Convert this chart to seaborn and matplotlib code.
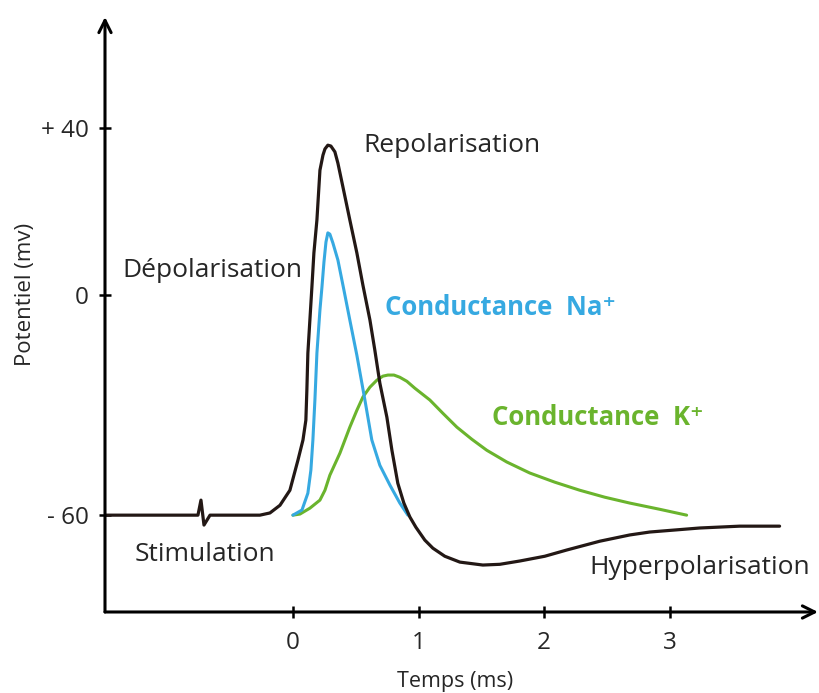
import numpy as np
import pandas as pd
import matplotlib
matplotlib.use('Agg')
import matplotlib.pyplot as plt
import seaborn as sns

sns.set_style('white')
plt.rcParams['font.family'] = ['Open Sans', 'DejaVu Sans']

# Potentiel d'action (ms, mV)
t_pot = [-1.496, -0.756, -0.732, -0.708, -0.660, -0.263, -0.183, -0.103, -0.024, 0.040,
         0.080, 0.103, 0.111, 0.119, 0.135, 0.151, 0.167, 0.191, 0.215, 0.239,
         0.255, 0.278, 0.302, 0.334, 0.358, 0.398, 0.453, 0.509, 0.557, 0.613,
         0.652, 0.692, 0.748, 0.788, 0.835, 0.883, 0.931, 0.979, 1.050, 1.114,
         1.209, 1.329, 1.512, 1.647, 1.806, 2.005, 2.180, 2.443, 2.681, 2.840,
         3.238, 3.556, 3.874]
v_pot = [-60, -60, -55.9, -62.7, -60, -60, -59.4, -57.3, -53.2, -45.0,
         -39.5, -34.1, -25.9, -15.8, -6.8, 1.9, 10.1, 18.0, 29.9, 33.5,
         35.0, 35.9, 35.7, 34.3, 31.6, 25.9, 18.0, 10.1, 2.4, -6.8,
         -15.0, -24.0, -33.3, -42.3, -51.3, -56.7, -60.5, -63.3, -66.8, -69.0,
         -71.2, -72.8, -73.6, -73.4, -72.5, -71.2, -69.5, -67.1, -65.4, -64.6,
         -63.5, -63.0, -63.0]

# Conductance Na+
t_na = [0, 0.072, 0.119, 0.143, 0.159, 0.175, 0.191, 0.215, 0.231, 0.247, 0.263, 0.278,
        0.294, 0.318, 0.358, 0.406, 0.453, 0.509, 0.573, 0.628, 0.692, 0.772, 0.851, 0.915]
v_na = [-60, -58.6, -54.0, -47.7, -39.5, -28.6, -15.8, -4.1, 1.9, 7.9, 12.7, 14.9,
        14.6, 12.5, 8.4, 1.2, -6.8, -16.4, -28.6, -39.5, -46.4, -51.8, -56.7, -60]

# Conductance K+
t_k = [0, 0.056, 0.135, 0.215, 0.255, 0.294, 0.374, 0.453, 0.509, 0.557, 0.613,
       0.668, 0.716, 0.756, 0.804, 0.851, 0.907, 0.971, 1.090, 1.193, 1.305,
       1.424, 1.543, 1.702, 1.885, 2.084, 2.283, 2.482, 2.681, 2.920, 3.134]
v_k = [-60, -59.7, -58.1, -55.9, -53.2, -49.1, -43.1, -36.0, -31.4, -27.8, -25.1,
       -23.2, -22.1, -21.8, -21.8, -22.4, -23.5, -25.4, -28.6, -32.2, -36.0,
       -39.3, -42.3, -45.5, -48.5, -51.0, -53.2, -55.1, -56.7, -58.4, -60]

yticks = [-60, 0, 40]
ytick_labels = ['- 60', '0', '+ 40']
xticks = [0, 1, 2, 3]

c_pot = '#231815'
c_na = '#36a9e1'
c_k = '#6ab42d'

df_pot = pd.DataFrame({'t': t_pot, 'v': v_pot})
df_na = pd.DataFrame({'t': t_na, 'v': v_na})
df_k = pd.DataFrame({'t': t_k, 'v': v_k})

fig = plt.figure(figsize=(8.19, 6.93), dpi=100)
ax = fig.add_axes([0.1282, 0.1169, 0.8706, 0.8586])

# echelle schematique: partie positive etiree
k = 1.1386
ax.set_yscale('function', functions=(lambda y: np.where(y > 0, y * k, y),
                                     lambda y: np.where(y > 0, y / k, y)))

sns.lineplot(data=df_k, x='t', y='v', color=c_k, lw=2.2, sort=False, estimator=None, ax=ax)
sns.lineplot(data=df_na, x='t', y='v', color=c_na, lw=2.2, sort=False, estimator=None, ax=ax)
sns.lineplot(data=df_pot, x='t', y='v', color=c_pot, lw=2.3, sort=False, estimator=None, ax=ax)

ax.set_xlim(-1.496, 4.18)
ax.set_ylim(-86.4, 66.6)

for s in ax.spines.values():
    s.set_visible(False)
ax.annotate('', xy=(1.0, 0), xytext=(0, 0), xycoords='axes fraction',
            arrowprops=dict(arrowstyle='->', lw=2.2, color='black', mutation_scale=22,
                            shrinkA=0, shrinkB=0), annotation_clip=False)
ax.annotate('', xy=(0, 1.0), xytext=(0, 0), xycoords='axes fraction',
            arrowprops=dict(arrowstyle='->', lw=2.2, color='black', mutation_scale=22,
                            shrinkA=0, shrinkB=0), annotation_clip=False)

ax.set_yticks(yticks)
ax.set_yticklabels(ytick_labels)
ax.set_xticks(xticks)
ax.tick_params(axis='both', direction='inout', length=9, width=1.8, color='black',
               labelsize=17.5, left=True, bottom=True)
ax.tick_params(axis='y', pad=7)
ax.tick_params(axis='x', pad=9)
ax.grid(False)

ax.set_xlabel('Temps (ms)', fontsize=15.5)
ax.set_ylabel('Potentiel (mv)', fontsize=16)
ax.xaxis.set_label_coords(0.491, -0.100)
ax.yaxis.set_label_coords(-0.097, 0.533)

fs = 19
ax.text(0.557, 35.9, 'Repolarisation', fontsize=fs, ha='left', va='center')
ax.text(-1.360, 6.0, 'Dépolarisation', fontsize=fs, ha='left', va='center')
ax.text(0.732, -3.3, 'Conductance  Na⁺', fontsize=18.5, ha='left', va='center',
        color=c_na, fontweight='bold')
ax.text(1.583, -33.5, 'Conductance  K⁺', fontsize=18.5, ha='left', va='center',
        color=c_k, fontweight='bold')
ax.text(-1.257, -70.6, 'Stimulation', fontsize=fs, ha='left', va='center')
ax.text(2.363, -74.4, 'Hyperpolarisation', fontsize=fs, ha='left', va='center')

fig.savefig('out.png', dpi=100)
